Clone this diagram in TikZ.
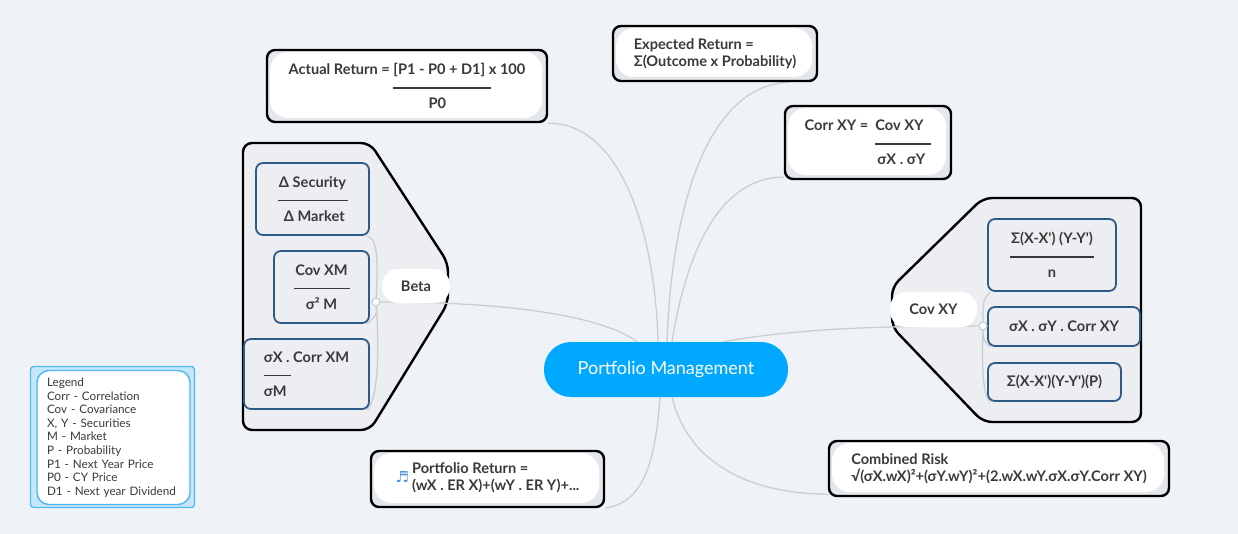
\documentclass[tikz,border=0pt]{standalone}
\usepackage{fontspec}
\setmainfont{Lato}
\newfontfamily\symfont{DejaVu Sans}
\usetikzlibrary{backgrounds}
\definecolor{pagebg}{HTML}{EFF3F7}
\definecolor{boxgray}{HTML}{E4E7EB}
\definecolor{grpgray}{HTML}{ECEEF1}
\definecolor{linkgray}{HTML}{C9CED4}
\definecolor{subblue}{HTML}{2E5A88}
\definecolor{mainblue}{HTML}{00A9FF}
\definecolor{txtgray}{HTML}{3A3A3A}
\definecolor{legfill}{HTML}{C5E6FB}
\definecolor{legline}{HTML}{4DB7F3}
\definecolor{noteblue}{HTML}{4A90E2}
\def\fracrule#1{\rule[3pt]{#1}{1.3pt}}
\def\ap{\textquotesingle}
\tikzset{
  txt/.style={text=txtgray,font=\fontsize{14.6}{17}\selectfont\bfseries},
  topic/.style={
    txt,rectangle,draw=black,line width=2.4pt,rounded corners=8pt,
    fill=boxgray,inner sep=0pt,align=left,
    path picture={\fill[white,rounded corners=18pt]
      ([xshift=3pt,yshift=-2pt]path picture bounding box.north west) rectangle
      ([xshift=-5pt,yshift=4pt]path picture bounding box.south east);}
  },
  sub/.style={
    txt,rectangle,draw=subblue,line width=1.8pt,rounded corners=7pt,
    fill=grpgray,inner sep=0pt,align=center
  },
  pill/.style={txt,rectangle,rounded corners=16pt,fill=white,inner sep=0pt},
  grp/.style={draw=black,line width=2.4pt,fill=grpgray,rounded corners=9pt},
  junc/.style={circle,fill=white,draw=linkgray,line width=1.2pt,
    minimum size=8pt,inner sep=0pt},
  link/.style={draw=linkgray,line width=1.3pt},
  central/.style={rectangle,rounded corners=27pt,fill=mainblue,text=white,
    font=\fontsize{18}{20}\selectfont,minimum width=244pt,minimum height=55pt}
}
\begin{document}
\begin{tikzpicture}[x=1pt,y=-1pt,line cap=round,line join=round]
\useasboundingbox (0,0) rectangle (1238,534);
\begin{scope}[on background layer]
\fill[pagebg] (0,0) rectangle (1238,534);
% group outlines
\path[grp] (243,143) -- (370,143) -- (448,263) -- (448,303)
  -- (370,430) -- (243,430) -- cycle;
\path[grp] (1141,198) -- (983,198) -- (892,287) -- (892,327)
  -- (983,422) -- (1141,422) -- cycle;
\end{scope}

% central topic
\node[central] (pm) at (666,369.5) {\raisebox{-2pt}{Portfolio Management}};

% topics
\node[topic,minimum width=280pt,minimum height=72pt] (ar) at (407,86)
  {Actual Return = [P1 - P0 + D1] x 100\\
   \hphantom{Actual Return = }\fracrule{98pt}\\
   \hphantom{Actual Return = }\makebox[88pt]{P0}};
\node[topic,minimum width=204pt,minimum height=55pt] (er) at (715,53.5)
  {Expected Return =\\Σ(Outcome x Probability)};
\node[topic,minimum width=166pt,minimum height=73pt] (corr) at (868,142.5)
  {Corr XY =\ \ Cov XY\\
   \hphantom{Corr XY =\ \ }\fracrule{56pt}\\
   \hphantom{Corr XY =\ \ }\makebox[52pt]{σX . σY}};
\node[topic,minimum width=233pt,minimum height=56pt] (pr) at (487.5,479)
  {{\symfont\fontsize{15}{17}\selectfont\color{noteblue}♬}\hspace{3pt}%
   \begin{tabular}[c]{@{}l@{}}Portfolio Return =\\(wX . ER X)+(wY . ER Y)+...\end{tabular}};
\node[topic,minimum width=340pt,minimum height=55pt] (cr) at (999,468.5)
  {Combined Risk\\√(σX.wX)²+(σY.wY)²+(2.wX.wY.σX.σY.Corr XY)};

% beta group
\node[sub,minimum width=113pt,minimum height=72pt] (db) at (312.5,199)
  {Δ Security\\\fracrule{70pt}\\\ Δ Market};
\node[sub,minimum width=95pt,minimum height=72pt] (cm) at (321.5,287)
  {Cov XM\\\fracrule{56pt}\\σ² M};
\node[sub,minimum width=125pt,minimum height=70pt,align=left] (sm) at (306.5,374)
  {σX . Corr XM\\\fracrule{27pt}\\σM};
\node[pill,minimum width=68pt,minimum height=34pt] (beta) at (416,286) {Beta};
\node[junc] (bj) at (376,302) {};

% covariance group
\node[sub,minimum width=128pt,minimum height=72pt] (s1) at (1052,255)
  {Σ(X-X\ap) (Y-Y\ap)\\\fracrule{84pt}\\n};
\node[sub,minimum width=152pt,minimum height=39pt] (s2) at (1064,326.5)
  {σX . σY . Corr XY};
\node[sub,minimum width=133pt,minimum height=38pt] (s3) at (1054.5,382)
  {Σ(X-X\ap)(Y-Y\ap)(P)};
\node[pill,minimum width=87pt,minimum height=35pt] (cov) at (933.5,309.5) {Cov XY};
\node[junc] (cj) at (983,326) {};

% legend
\node[rectangle,draw=legline,densely dotted,line width=1.4pt,fill=legfill,
  rounded corners=3pt,minimum width=164pt,minimum height=141pt] (leg) at (112.5,437) {};
\node[rectangle,draw=legline,line width=1.4pt,fill=white,rounded corners=12pt,
  text=txtgray,font=\fontsize{11.7}{13.6}\selectfont,align=left,
  text width=133pt,inner xsep=10pt,inner ysep=0pt,minimum height=134pt] (legin) at (113.5,437.5)
  {Legend\\Corr - Correlation\\Cov - Covariance\\X, Y - Securities\\M - Market\\
   P - Probability\\P1 - Next Year Price\\P0 - CY Price\\D1 - Next year Dividend};

\begin{scope}[on background layer]
\draw[link] ([xshift=-8pt]pm.north) .. controls (655,230) and (620,123) .. (ar.south east);
\draw[link] ([xshift=1pt]pm.north) .. controls (672,200) and (710,84) .. ([xshift=-28pt]er.south east);
\draw[link] ([xshift=6pt]pm.north) .. controls (690,230) and (730,177) .. ([yshift=3pt]corr.south west);
\draw[link] ([xshift=57pt]pm.north) .. controls (790,330) and (860,326) .. (cj);
\draw[link] ([xshift=-29pt]pm.north) .. controls (605,318) and (520,302) .. (bj);
\draw[link] ([xshift=-6pt]pm.south) .. controls (655,470) and (640,503) .. (pr.south east);
\draw[link] ([xshift=6pt]pm.south) .. controls (690,470) and (760,494) .. ([yshift=3pt]cr.south west);
\draw[link] (bj) .. controls (378,262) and (378,238) .. ([xshift=-3pt]db.south east);
\draw[link] (bj) .. controls (377,315) .. ([xshift=-3pt]cm.south east);
\draw[link] (bj) .. controls (379,345) and (379,400) .. ([xshift=-3pt]sm.south east);
\draw[link] (cj) .. controls (983,300) .. ([xshift=3pt]s1.south west);
\draw[link] (cj) .. controls (983,340) .. ([xshift=3pt]s2.south west);
\draw[link] (cj) .. controls (982,360) and (982,395) .. ([xshift=3pt]s3.south west);
\end{scope}
\end{tikzpicture}
\end{document}
